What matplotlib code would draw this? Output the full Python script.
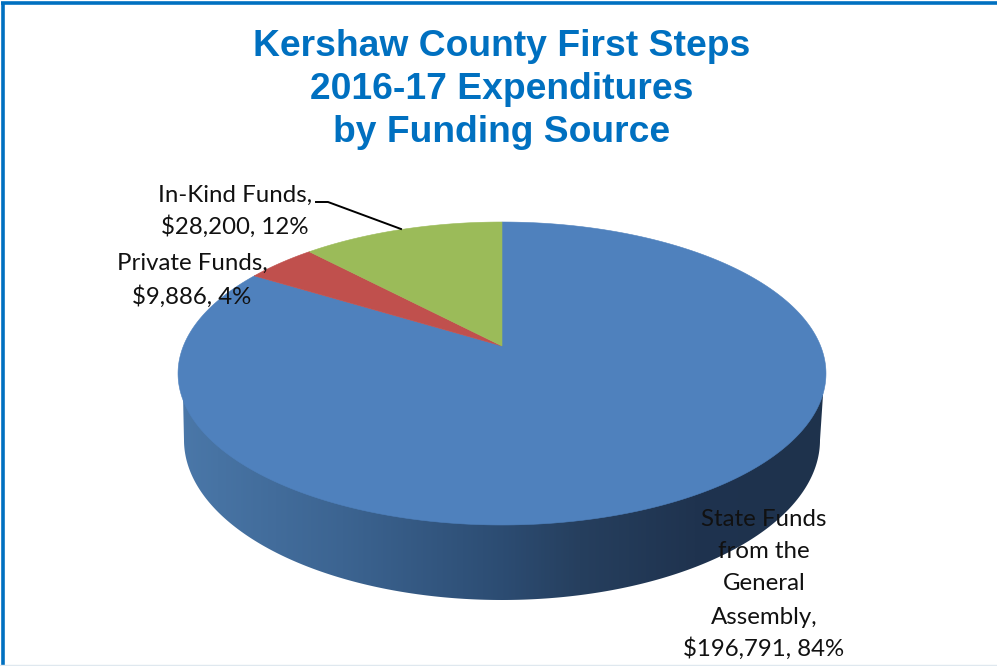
import numpy as np
import matplotlib
matplotlib.use("Agg")
import matplotlib.pyplot as plt
from matplotlib.colors import LinearSegmentedColormap
from matplotlib.patches import Polygon

# Data
sources = ["State Funds from the General Assembly", "Private Funds", "In-Kind Funds"]
amounts = [196791, 9886, 28200]
colors = ["#4f81bd", "#c0504d", "#9bbb59"]
title_lines = ["Kershaw County First Steps", "2016-17 Expenditures", "by Funding Source"]
label_state = ["State Funds", "from the", "General", "Assembly,", "$196,791, 84%"]
label_private = ["Private Funds,", "$9,886, 4%"]
label_inkind = ["In-Kind Funds,", "$28,200, 12%"]
side_stops = [(0.0, "#4a77a8"), (0.25, "#3c6491"), (0.5, "#2c4c72"), (0.62, "#263f5e"), (0.8, "#1f334f"), (1.0, "#1e324c")]

W, H = 997, 666
fig = plt.figure(figsize=(W / 100, H / 100), dpi=100, facecolor="white")
ax = fig.add_axes([0, 0, 1, 1])
ax.set_xlim(0, W)
ax.set_ylim(H, 0)
ax.axis("off")

# Perspective projection of the pie's top disc
CX, CY, A, B, K = 502.0, 346.0, 318.6, 146.5, 0.1815


def project(frac):
    """frac: clockwise fraction of the circle from 12 o'clock."""
    t = 2 * np.pi * np.asarray(frac)
    u, v = np.sin(t), np.cos(t)
    d = 1 + K * v
    return CX + A * u / d, CY - B * v / d


# Side wall
theta = np.linspace(np.pi, 0, 300)
bx = 502 + 318 * np.cos(theta)
by = 440 + 160 * np.sin(theta)
side_x = np.r_[183, bx, 823]
side_y = np.r_[395, by, 395]
side = Polygon(np.c_[side_x, side_y], closed=True, transform=ax.transData, fc="none", ec="none")
ax.add_patch(side)
cmap = LinearSegmentedColormap.from_list("side", side_stops)
im = ax.imshow(np.linspace(0, 1, 640).reshape(1, -1), cmap=cmap, extent=(183, 823, 610, 380),
               aspect="auto", zorder=1)
im.set_clip_path(side)
ax.set_xlim(0, W)
ax.set_ylim(H, 0)

# Top wedges, clockwise from 12 o'clock
total = sum(amounts)
start = 0.0
for amt, col in zip(amounts, colors):
    f = amt / total
    fr = np.linspace(start, start + f, 400)
    x, y = project(fr)
    ax.fill(np.r_[CX, x], np.r_[CY, y], fc=col, ec=col, lw=0.4, zorder=2)
    start += f

# Frame
ax.plot([2.5, 2.5], [H, 2.5], color="#0070c0", lw=2.6, zorder=5, solid_capstyle="butt")
ax.plot([1, W], [2.5, 2.5], color="#0070c0", lw=2.6, zorder=5, solid_capstyle="butt")
ax.plot([0, W], [665, 665], color="#dfe8ef", lw=1, zorder=5)

# Title
for line, yy in zip(title_lines, [46.5, 89.5, 132.5]):
    ax.text(502, yy, line, ha="center", va="center", family="Liberation Sans", weight="bold",
            color="#0070c0", fontsize=26.8, zorder=6)

# Labels
lab = dict(ha="center", va="center", family="Lato", fontsize=17.3, color="#111111", zorder=6)
for line, yy in zip(label_inkind, [195, 227]):
    ax.text(235, yy, line, **lab)
for line, yy in zip(label_private, [263, 297]):
    ax.text(192, yy, line, **lab)
for line, yy in zip(label_state, [520, 552, 584, 617, 649]):
    ax.text(764, yy, line, **lab)

# Leader
ax.plot([316, 328, 401], [202, 202, 229], color="black", lw=1.4, zorder=6)

fig.savefig("out.png", dpi=100, facecolor="white")
